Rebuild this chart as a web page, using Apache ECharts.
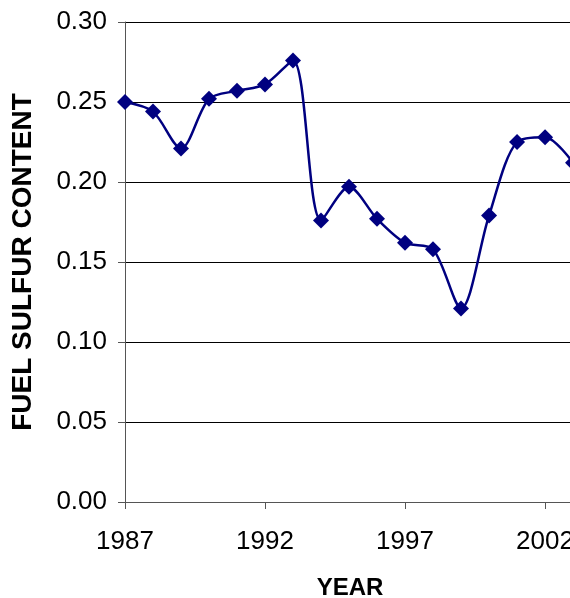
<!DOCTYPE html>
<html>
<head>
<meta charset="utf-8">
<script src="https://cdn.jsdelivr.net/npm/echarts@6/dist/echarts.min.js"></script>
<style>
html,body{margin:0;padding:0;overflow:hidden;background:#fff;}
#chart{width:570px;height:598px;overflow:hidden;}
</style>
</head>
<body>
<div id="chart"></div>
<script>
const years = [1987,1988,1989,1990,1991,1992,1993,1994,1995,1996,1997,1998,1999,2000,2001,2002,2003];
const sulfur = [0.250,0.244,0.221,0.252,0.257,0.261,0.276,0.176,0.197,0.177,0.162,0.158,0.121,0.179,0.225,0.228,0.212];
const xTickYears = [1987,1992,1997,2002];
const yTicks = [0,0.05,0.10,0.15,0.20,0.25,0.30];

const chart = echarts.init(document.getElementById('chart'));
chart.setOption({
  animation: false,
  backgroundColor: '#fff',
  grid: {left: 125, top: 22, width: 450, height: 480, containLabel: false, outerBoundsMode: 'none'},
  xAxis: {
    type: 'value',
    min: xTickYears[0],
    max: 2003.07,
    interval: 5,
    name: 'YEAR',
    nameLocation: 'middle',
    nameGap: 74,
    nameTextStyle: {fontFamily: 'Liberation Sans, Arial', fontWeight: 'bold', fontSize: 24, color: '#000'},
    axisLine: {lineStyle: {color: '#555', width: 1}},
    axisTick: {show: true, length: 7, inside: false, lineStyle: {color: '#555'}},
    axisLabel: {
      margin: 27, fontSize: 26, color: '#000',
      fontFamily: 'Liberation Sans, Arial',
      showMaxLabel: false,
      formatter: v => xTickYears.includes(Math.round(v)) && Math.abs(v - Math.round(v)) < 1e-6 ? String(Math.round(v)) : ''
    },
    splitLine: {show: false}
  },
  yAxis: {
    type: 'value',
    min: yTicks[0],
    max: yTicks[yTicks.length - 1],
    interval: 0.05,
    name: 'FUEL SULFUR CONTENT',
    nameLocation: 'middle',
    nameRotate: 90,
    nameGap: 88,
    nameTextStyle: {fontFamily: 'Liberation Sans, Arial', fontWeight: 'bold', fontSize: 28, color: '#000'},
    axisLine: {show: true, lineStyle: {color: '#555', width: 1}},
    axisTick: {show: true, length: 7, inside: false, lineStyle: {color: '#555'}},
    axisLabel: {margin: 18, fontSize: 26, color: '#000', fontFamily: 'Liberation Sans, Arial', formatter: v => v.toFixed(2)},
    splitLine: {show: true, lineStyle: {color: '#000', width: 1}}
  },
  series: [{
    type: 'line',
    data: years.map((y, i) => [y, sulfur[i]]),
    smooth: 0.3,
    symbol: 'diamond',
    symbolSize: 16,
    clip: false,
    lineStyle: {color: '#000080', width: 2.5},
    itemStyle: {color: '#000080', borderWidth: 0}
  }]
});
</script>
</body>
</html>
